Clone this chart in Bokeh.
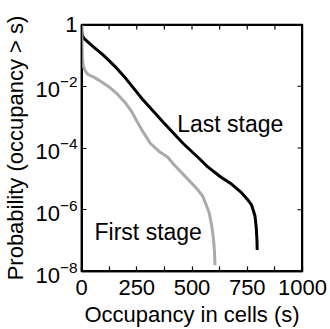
from math import pi
from bokeh.plotting import figure
from bokeh.models import FixedTicker, Label, Range1d, LogTickFormatter
from bokeh.embed import file_html
from bokeh.resources import INLINE

# Last stage (black) survival curve
last_x = [0, 1, 3, 12, 50, 100, 150, 200, 280, 370, 460, 535, 570, 630, 675, 720, 750, 770, 785, 791, 794, 795]
last_p = [1.0, 0.63, 0.44, 0.35, 0.2, 0.1, 0.045, 0.018, 3.5e-3, 6.8e-4, 1.4e-4, 4.4e-5, 2.5e-5,
          1.15e-5, 7.1e-6, 3.8e-6, 2.2e-6, 1.4e-6, 6.3e-7, 2.5e-7, 1e-7, 5e-8]

# First stage (gray) survival curve
first_x = [0, 2, 4, 8, 18, 30, 60, 90, 130, 160, 200, 225, 252, 280, 312, 350, 390, 420, 480, 520,
           548, 565, 578, 590, 598, 602, 604]
first_p = [1.0, 0.32, 0.079, 0.045, 0.030, 0.024, 0.019, 0.014, 8.9e-3, 5.8e-3, 2.8e-3, 1.6e-3,
           7.1e-4, 3.2e-4, 1.4e-4, 7.9e-5, 5e-5, 2.8e-5, 1e-5, 5e-6, 2.8e-6, 1.4e-6, 7.9e-7,
           2.8e-7, 1e-7, 4e-8, 1.6e-8]

x_lim = (0, 1000)
y_lim = (1e-8, 1)
x_ticks = [0, 250, 500, 750, 1000]
x_minor = [125, 375, 625, 875]
y_ticks = [1e-8, 1e-6, 1e-4, 1e-2, 1]

FONT = "Liberation Sans"
FS = "22px"

p = figure(width=330, height=329,
           min_border_left=81, min_border_right=28, min_border_top=24, min_border_bottom=58,
           x_range=Range1d(*x_lim), y_range=Range1d(*y_lim), y_axis_type="log",
           output_backend="svg", toolbar_location=None)
p.xgrid.visible = False
p.ygrid.visible = False
p.outline_line_color = "black"
p.outline_line_width = 1.5
p.background_fill_color = "white"
p.border_fill_color = "white"

# frame box drawn from the axis limits
p.quad(left=x_lim[0], right=x_lim[1], bottom=y_lim[0], top=y_lim[1],
       fill_color=None, line_color="black", line_width=3)

p.line(last_x, last_p, line_color="black", line_width=3)
p.line(first_x, first_p, line_color="#aaaaaa", line_width=3)

# inward ticks on the top and right edges of the box
all_x_ticks = sorted(x_ticks + x_minor)
p.ray(x=all_x_ticks, y=[y_lim[1]] * len(all_x_ticks), length=5, length_units="screen",
      angle=-pi / 2, line_color="black", line_width=1.2)
p.ray(x=[x_lim[1]] * len(y_ticks), y=y_ticks, length=5, length_units="screen",
      angle=pi, line_color="black", line_width=1.2)

def style(ax):
    ax.axis_line_color = "black"
    ax.axis_line_width = 1.5
    ax.major_tick_line_color = "black"
    ax.major_tick_line_width = 1.2
    ax.minor_tick_line_color = "black"
    ax.minor_tick_line_width = 1.2
    ax.major_tick_in = 5
    ax.major_tick_out = 0
    ax.minor_tick_in = 5
    ax.minor_tick_out = 0
    ax.major_label_text_font = FONT
    ax.major_label_text_font_size = FS
    ax.major_label_text_color = "black"
    ax.axis_label_text_font = FONT
    ax.axis_label_text_font_size = FS
    ax.axis_label_text_font_style = "normal"
    ax.axis_label_text_color = "black"

xa = p.xaxis[0]
xa.ticker = FixedTicker(ticks=x_ticks, minor_ticks=x_minor)
xa.axis_label = "Occupancy in cells (s)"
style(xa)
xa.major_label_standoff = 8
xa.axis_label_standoff = 4

ya = p.yaxis[0]
ya.ticker = FixedTicker(ticks=y_ticks)
ya.formatter = LogTickFormatter()
ya.major_label_overrides = {1: "1"}
ya.axis_label = "Probability (occupancy > s)"
style(ya)
ya.major_label_standoff = 4
ya.axis_label_standoff = 4

p.add_layout(Label(x=433, y=6.2e-4, text="Last stage", text_font=FONT, text_font_size="23px",
                   text_baseline="alphabetic", text_color="black"))
p.add_layout(Label(x=59, y=1.9e-7, text="First stage", text_font=FONT, text_font_size="23px",
                   text_baseline="alphabetic", text_color="black"))

open("out.html", "w").write(file_html(p, INLINE))
